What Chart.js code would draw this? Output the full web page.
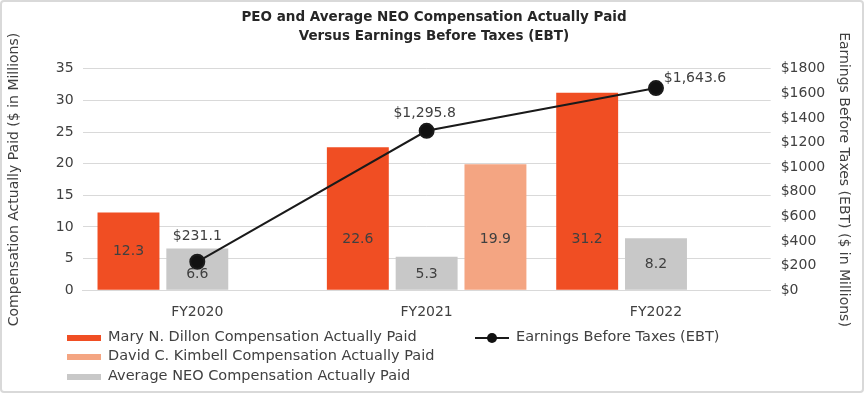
<!DOCTYPE html>
<html>
<head>
<meta charset="utf-8">
<script src="https://cdn.jsdelivr.net/npm/chart.js@4.4.0/dist/chart.umd.min.js"></script>
<style>
  html, body { margin: 0; padding: 0; background: #fff; }
  #wrap {
    position: relative; width: 860px; height: 389px;
    border: 2px solid #d9d9d9; border-radius: 4px; overflow: hidden;
    font-family: "DejaVu Sans", sans-serif;
  }
  #chart { position: absolute; left: 0; top: 0; }
  .leg { position: absolute; font-size: 14.5px; color: #404040; white-space: nowrap; }
  .sw { position: absolute; width: 34px; height: 6px; }
</style>
</head>
<body>
<div id="wrap">
  <canvas id="chart" width="860" height="389"></canvas>
  <div id="legend"></div>
</div>
<script>
// ----------------------------------------------------------------------------
// data
// ----------------------------------------------------------------------------
const fiscalYears   = ['FY2020', 'FY2021', 'FY2022'];
const dillonPay     = [12.3, 22.6, 31.2];
const neoPay        = [6.6, 5.3, 8.2];
const kimbellPay    = [null, 19.9, null];
const ebtValues     = [231.1, 1295.8, 1643.6];
const ebtLabels     = ['$231.1', '$1,295.8', '$1,643.6'];

const ORANGE = '#f04e23';
const SALMON = '#f4a582';
const GREY   = '#c8c8c8';
const TXT    = '#404040';
const FONT   = '"DejaVu Sans", sans-serif';

// draws the value labels in the bars and the EBT labels next to the dots
const valueLabels = {
    id: 'valueLabels',
    afterDatasetsDraw(chart) {
        const ctx = chart.ctx;
        ctx.save();
        ctx.font = '14px ' + FONT;
        ctx.fillStyle = TXT;
        ctx.textAlign = 'center';
        ctx.textBaseline = 'middle';

        // bar labels - centred, low in short bars, kept in the lower part of tall bars
        [0, 1, 2].forEach(di => {
            const meta = chart.getDatasetMeta(di);
            meta.data.forEach((bar, i) => {
                const v = chart.data.datasets[di].data[i];
                if (v === null) return;
                const h = bar.base - bar.y;
                const mid = (bar.y + bar.base) / 2;
                const y = h < 45 ? bar.base - 15 : Math.max(mid, bar.base - 50);
                ctx.fillText(v.toFixed(1), bar.x, y);
            });
        });

        // EBT labels
        const line = chart.getDatasetMeta(3);
        const offs = [[0, -25], [-2, -17], [39, -10]];
        line.data.forEach((pt, i) => {
            ctx.fillText(ebtLabels[i], pt.x + offs[i][0], pt.y + offs[i][1]);
        });
        ctx.restore();
    }
};

const ctx = document.getElementById('chart').getContext('2d');
new Chart(ctx, {
    type: 'bar',
    data: {
        labels: fiscalYears,
        datasets: [
            {
                label: 'Mary N. Dillon Compensation Actually Paid',
                data: dillonPay,
                backgroundColor: ORANGE,
                yAxisID: 'y',
                order: 2
            },
            {
                label: 'Average NEO Compensation Actually Paid',
                data: neoPay,
                backgroundColor: GREY,
                yAxisID: 'y',
                order: 2
            },
            {
                label: 'David C. Kimbell Compensation Actually Paid',
                data: kimbellPay,
                backgroundColor: SALMON,
                yAxisID: 'y',
                order: 2
            },
            {
                type: 'line',
                label: 'Earnings Before Taxes (EBT)',
                data: ebtValues,
                borderColor: '#1a1a1a',
                backgroundColor: '#111',
                borderWidth: 2,
                pointRadius: 7,
                pointHoverRadius: 7,
                yAxisID: 'y1',
                order: 1
            }
        ]
    },
    options: {
        responsive: false,
        animation: false,
        categoryPercentage: 0.9,
        barPercentage: 0.9,
        layout: {
            padding: { left: 4, right: 0, top: 2, bottom: 64 }
        },
        plugins: {
            legend: { display: false },
            tooltip: { enabled: false },
            title: {
                display: true,
                text: ['PEO and Average NEO Compensation Actually Paid',
                       'Versus Earnings Before Taxes (EBT)'],
                color: '#262626',
                font: { family: FONT, size: 13.5, weight: 'bold', lineHeight: 1.4 },
                padding: { top: 4, bottom: 23 }
            }
        },
        scales: {
            x: {
                grid: { display: false },
                border: { color: '#d9d9d9' },
                ticks: { color: TXT, font: { family: FONT, size: 14 }, padding: 6 }
            },
            y: {
                position: 'left',
                min: 0,
                max: 35,
                ticks: { stepSize: 5, color: TXT, font: { family: FONT, size: 14 }, padding: 9 },
                grid: { color: '#d9d9d9', drawTicks: false },
                border: { display: false },
                title: {
                    display: true,
                    text: 'Compensation Actually Paid ($ in Millions)',
                    color: TXT,
                    font: { family: FONT, size: 14 },
                    padding: { top: 0, bottom: 24 }
                }
            },
            y1: {
                position: 'right',
                min: 0,
                max: 1800,
                ticks: {
                    stepSize: 200,
                    color: TXT,
                    font: { family: FONT, size: 14 },
                    padding: 10,
                    callback: v => '$' + v
                },
                grid: { display: false, drawTicks: false },
                border: { display: false },
                title: {
                    display: true,
                    text: 'Earnings Before Taxes (EBT) ($ in Millions)',
                    color: TXT,
                    font: { family: FONT, size: 14 },
                    padding: { top: 10, bottom: 0 }
                }
            }
        }
    },
    plugins: [valueLabels]
});

// ----------------------------------------------------------------------------
// legend laid out in two columns like the reference
// ----------------------------------------------------------------------------
const legendItems = [
    { text: 'Mary N. Dillon Compensation Actually Paid', color: ORANGE, x: 65, y: 336 },
    { text: 'David C. Kimbell Compensation Actually Paid', color: SALMON, x: 65, y: 355 },
    { text: 'Average NEO Compensation Actually Paid', color: GREY, x: 65, y: 375 },
    { text: 'Earnings Before Taxes (EBT)', color: null, x: 473, y: 336 }
];
const legendEl = document.getElementById('legend');
legendItems.forEach(item => {
    let marker;
    if (item.color) {
        marker = `<div class="sw" style="left:${item.x}px;top:${item.y - 3}px;background:${item.color}"></div>`;
    } else {
        marker = `<div style="position:absolute;left:${item.x}px;top:${item.y - 1}px;width:34px;height:2px;background:#1a1a1a"></div>
                  <div style="position:absolute;left:${item.x + 12}px;top:${item.y - 5}px;width:10px;height:10px;border-radius:50%;background:#111"></div>`;
    }
    legendEl.insertAdjacentHTML('beforeend', marker +
        `<div class="leg" style="left:${item.x + 41}px;top:${item.y - 10}px;">${item.text}</div>`);
});
</script>
</body>
</html>
